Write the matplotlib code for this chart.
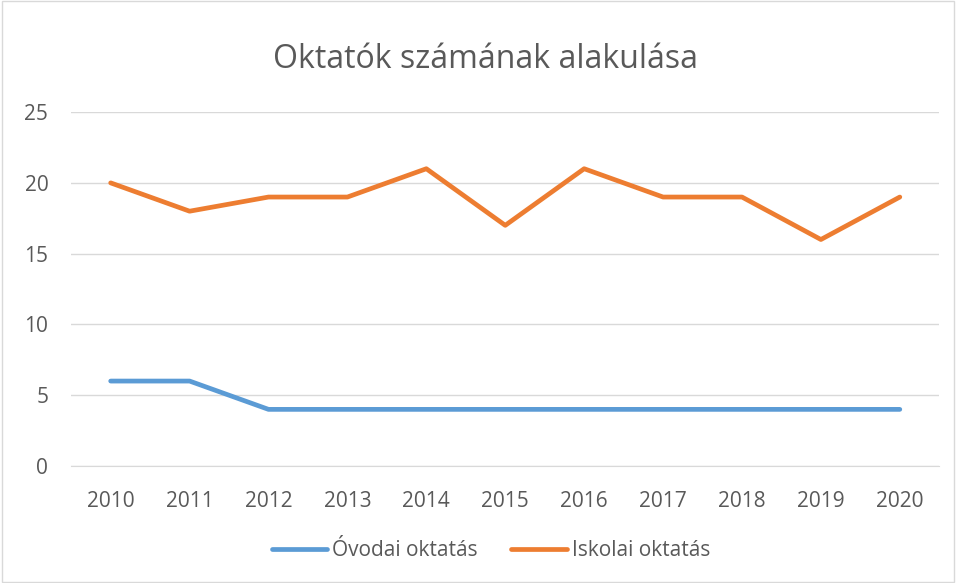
import matplotlib.pyplot as plt
from matplotlib.patches import Rectangle

# adatok
evek = ["2010", "2011", "2012", "2013", "2014", "2015", "2016", "2017", "2018", "2019", "2020"]
ovodai = [6, 6, 4, 4, 4, 4, 4, 4, 4, 4, 4]
iskolai = [20, 18, 19, 19, 21, 17, 21, 19, 19, 16, 19]

plt.rcParams['font.family'] = ['Open Sans', 'DejaVu Sans']

fig = plt.figure(figsize=(9.56, 5.83), dpi=100, facecolor="white")
ax = fig.add_axes([0.0745, 0.2007, 0.908, 0.607])

x = range(len(evek))
ax.plot(x, ovodai, color="#5B9BD5", linewidth=3.4, solid_capstyle="round", label="Óvodai oktatás")
ax.plot(x, iskolai, color="#ED7D31", linewidth=3.4, solid_capstyle="round", label="Iskolai oktatás")

ax.set_xlim(-0.5, len(evek) - 0.5)
ax.set_ylim(0, 25)
ax.set_yticks(range(0, 26, 5))
ax.set_xticks(list(x))
ax.set_xticklabels(evek)
ax.grid(axis="y", color="#D9D9D9", linewidth=1)
ax.set_axisbelow(True)
for s in ["top", "right", "left"]:
    ax.spines[s].set_visible(False)
ax.spines["bottom"].set_color("#D9D9D9")
ax.tick_params(length=0, labelsize=15, colors="#595959")
ax.tick_params(axis="x", pad=18)
ax.tick_params(axis="y", pad=16.5)

fig.text(0.508, 0.8834, "Oktatók számának alakulása", ha="center", va="baseline",
         fontsize=23, color="#595959")

fig.legend(loc="center", bbox_to_anchor=(0.5136, 0.055), ncol=2, frameon=False,
           fontsize=15, labelcolor="#595959", handlelength=2.65, handletextpad=0.25,
           columnspacing=1.6)

# keret
fig.patches.append(Rectangle((0.002, 0.002), 0.996, 0.996, transform=fig.transFigure,
                             fill=False, edgecolor="#D9D9D9", linewidth=1))

fig.savefig("out.png", dpi=100)
